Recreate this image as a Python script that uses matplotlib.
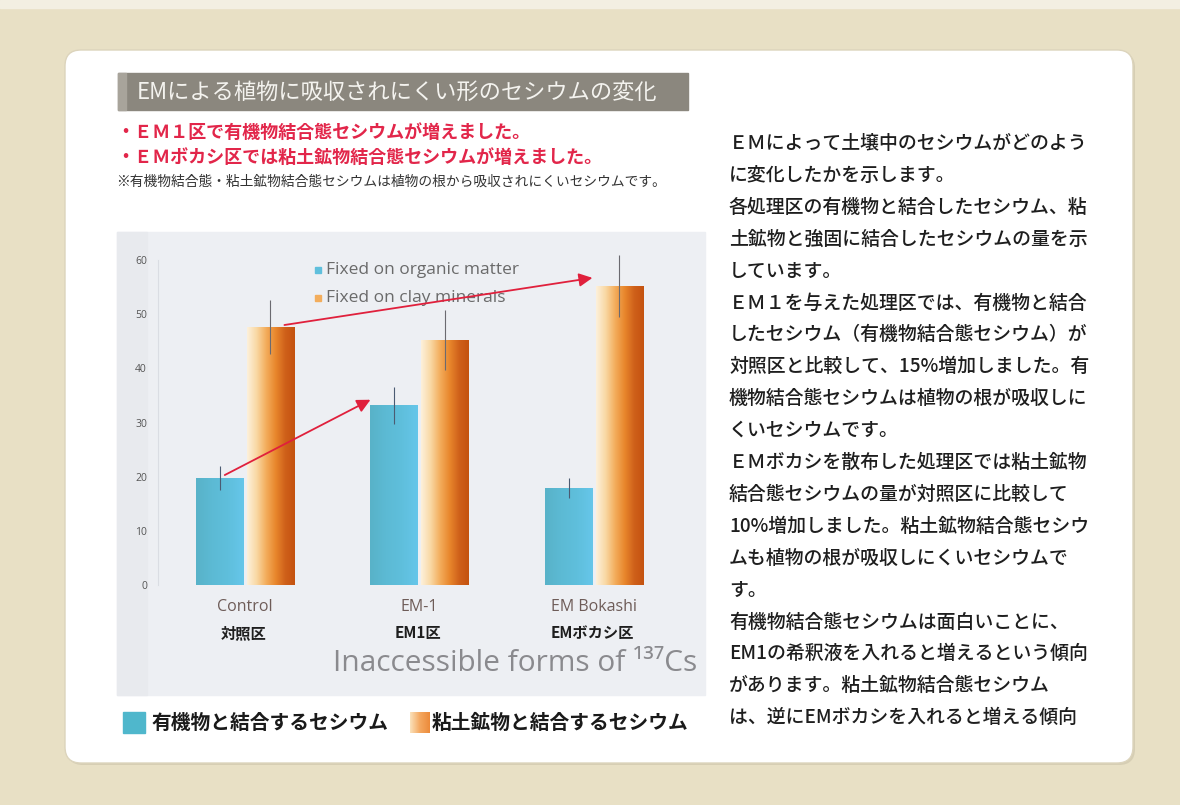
import numpy as np
import matplotlib
matplotlib.use("Agg")
import matplotlib.pyplot as plt
from matplotlib.patches import Rectangle, FancyBboxPatch
from matplotlib.colors import LinearSegmentedColormap

# ---------------- data ----------------
categories_en = ["Control", "EM-1", "EM Bokashi"]
categories_jp = ["対照区", "EM1区", "EMボカシ区"]
organic_values = [19.7, 33.2, 17.9]
organic_err = [2.2, 3.4, 1.9]
clay_values = [47.6, 45.2, 55.2]
clay_err = [5.0, 5.5, 5.8]
y_ticks = [0, 10, 20, 30, 40, 50, 60]
legend_en = ["Fixed on organic matter", "Fixed on clay minerals"]
legend_jp = ["有機物と結合するセシウム", "粘土鉱物と結合するセシウム"]
chart_title = "Inaccessible forms of ¹³⁷Cs"
panel_title = "EMによる植物に吸収されにくい形のセシウムの変化"
red_points = ["・ＥＭ１区で有機物結合態セシウムが増えました。",
              "・ＥＭボカシ区では粘土鉱物結合態セシウムが増えました。"]
note = "※有機物結合態・粘土鉱物結合態セシウムは植物の根から吸収されにくいセシウムです。"
body_lines = [
    "ＥＭによって土壌中のセシウムがどのよう",
    "に変化したかを示します。",
    "各処理区の有機物と結合したセシウム、粘",
    "土鉱物と強固に結合したセシウムの量を示",
    "しています。",
    "ＥＭ１を与えた処理区では、有機物と結合",
    "したセシウム（有機物結合態セシウム）が",
    "対照区と比較して、15%増加しました。有",
    "機物結合態セシウムは植物の根が吸収しに",
    "くいセシウムです。",
    "ＥＭボカシを散布した処理区では粘土鉱物",
    "結合態セシウムの量が対照区に比較して",
    "10%増加しました。粘土鉱物結合態セシウ",
    "ムも植物の根が吸収しにくいセシウムで",
    "す。",
    "有機物結合態セシウムは面白いことに、",
    "EM1の希釈液を入れると増えるという傾向",
    "があります。粘土鉱物結合態セシウム",
    "は、逆にEMボカシを入れると増える傾向",
]

JP = ["Noto Sans CJK JP", "DejaVu Sans"]
EN = ["Open Sans", "DejaVu Sans"]
W, H = 1180, 805

fig = plt.figure(figsize=(W / 100, H / 100), dpi=100)

# ---------------- background / layout layer (pixel coordinates) ----------------
bg = fig.add_axes([0, 0, 1, 1])
bg.set_xlim(0, W)
bg.set_ylim(H, 0)
bg.axis("off")
bg.add_patch(Rectangle((0, 0), W, H, color="#e8e0c5", zorder=0))
bg.add_patch(Rectangle((0, 0), W, 8, color="#f3efe2", zorder=0.5))
bg.add_patch(FancyBboxPatch((67, 52), 1068, 713, boxstyle="round,pad=0,rounding_size=16",
                            fc="#d6ceb4", ec="none", zorder=0.8))
bg.add_patch(FancyBboxPatch((65, 50), 1068, 713, boxstyle="round,pad=0,rounding_size=16",
                            fc="#ffffff", ec="#dcd4bc", lw=1.0, zorder=1))

# title bar
bg.add_patch(Rectangle((118, 73), 570, 37, color="#8b877e", zorder=2))
bg.add_patch(Rectangle((118, 73), 8, 37, color="#a8a49b", zorder=2.1))
bg.text(137, 92, panel_title, family=JP, fontsize=16, color="#f4f3ef", va="center", ha="left", zorder=3)

# red bullet lines and note
bg.text(116, 132, red_points[0], family=JP, fontsize=13, color="#e2264a", fontweight="bold",
        va="center", ha="left", zorder=3)
bg.text(116, 157, red_points[1], family=JP, fontsize=13, color="#e2264a", fontweight="bold",
        va="center", ha="left", zorder=3)
bg.text(116, 182, note, family=JP, fontsize=9.9, color="#333333", va="center", ha="left", zorder=3)

# chart background area
bg.add_patch(Rectangle((117, 232), 588, 463, color="#edeff3", zorder=1.5))
bg.add_patch(Rectangle((117, 232), 30, 463, color="#e8eaee", zorder=1.6))

# right column text
y0, dy = 143, 31.9
for i, line in enumerate(body_lines):
    bg.text(729, y0 + i * dy, line, family=JP, fontsize=13.6, color="#1e1e1e", fontweight="medium",
            va="center", ha="left", zorder=3)

# ---------------- chart ----------------
x_px0, x_step = 245, 174.5
ax_left, ax_right, ax_bottom, ax_top = 158, 690, 585, 240
px_per_unit = (585 - 260) / 60.0
ax = fig.add_axes([ax_left / W, 1 - ax_bottom / H, (ax_right - ax_left) / W, (ax_bottom - ax_top) / H])
ax.set_zorder(3)
ax.patch.set_alpha(0)
xlim = ((ax_left - x_px0) / x_step, (ax_right - x_px0) / x_step)
ylim = (0, (ax_bottom - ax_top) / px_per_unit)

x = np.arange(len(categories_en))
off, bw = 0.146, 0.27
bars_b = ax.bar(x - off, organic_values, bw, zorder=2)
bars_o = ax.bar(x + off, clay_values, bw, zorder=2)

cmap_b = LinearSegmentedColormap.from_list("b", ["#58b2c8", "#5cbad4", "#5fbfdc", "#66c6ea"])
cmap_o = LinearSegmentedColormap.from_list("o", ["#fdf1dc", "#f9d8a4", "#f3ad5c", "#e8862c", "#cf601a", "#c4520f"])
grad = np.linspace(0, 1, 256).reshape(1, -1)
for bars, cm in ((bars_b, cmap_b), (bars_o, cmap_o)):
    for p in bars:
        x0, yb = p.get_x(), p.get_y()
        w, h = p.get_width(), p.get_height()
        im = ax.imshow(grad, extent=[x0, x0 + w, yb, yb + h], aspect="auto", cmap=cm,
                       origin="lower", zorder=2, interpolation="bilinear")
        im.set_clip_path(p)
        p.set_facecolor("none")

ax.errorbar(x - off, organic_values, yerr=organic_err, fmt="none", ecolor="#4b5b72", elinewidth=0.8,
            capsize=0, zorder=3)
ax.errorbar(x + off, clay_values, yerr=clay_err, fmt="none", ecolor="#6b6a70", elinewidth=0.8,
            capsize=0, zorder=3)

# red trend arrows between bars
ax.annotate("", xy=(x[1] - off - bw / 2, organic_values[1] + 1.0),
            xytext=(x[0] - off + 0.03, organic_values[0] + 0.6),
            arrowprops=dict(arrowstyle="-|>", color="#e0203c", lw=1.3, mutation_scale=20,
                            shrinkA=0, shrinkB=0), zorder=4)
ax.annotate("", xy=(x[2] + off - bw / 2 - 0.02, clay_values[2] + 1.5),
            xytext=(x[0] + off + 0.08, clay_values[0] + 0.4),
            arrowprops=dict(arrowstyle="-|>", color="#e0203c", lw=1.3, mutation_scale=20,
                            shrinkA=0, shrinkB=0), zorder=4)

ax.set_xlim(*xlim)
ax.set_ylim(*ylim)
ax.set_yticks(y_ticks)
ax.set_yticklabels([str(t) for t in y_ticks], family=EN, fontsize=7.5, color="#555555")
ax.tick_params(axis="y", length=0, pad=8)
ax.set_xticks(x)
ax.set_xticklabels(categories_en, family=EN, fontsize=11.5, color="#6e5c58")
ax.tick_params(axis="x", length=0, pad=10)
for s in ("top", "right", "bottom"):
    ax.spines[s].set_visible(False)
ax.spines["left"].set_color("#dadde3")
ax.spines["left"].set_linewidth(0.8)
ax.spines["left"].set_bounds(0, 60)

for xi, lab in zip(x, categories_jp):
    ax.text(xi - 0.01, -(633 - ax_bottom) / px_per_unit, lab, family=JP, fontsize=11,
            color="#1e1e1e", ha="center", va="center", fontweight="bold", clip_on=False)

# legend inside chart
bg.add_patch(Rectangle((315, 267), 6, 6, color="#5fbfdc", zorder=4))
bg.add_patch(Rectangle((315, 295), 6, 6, color="#f3ad5c", zorder=4))
bg.text(326, 270, legend_en[0], family=EN, fontsize=12.5, color="#6a6a6a", va="center", ha="left", zorder=4)
bg.text(326, 298, legend_en[1], family=EN, fontsize=12.5, color="#6a6a6a", va="center", ha="left", zorder=2.5)

bg.text(697, 663, chart_title, family=EN, fontsize=21.5, color="#8a8a8e", va="center", ha="right", zorder=4)

# bottom legend
bg.add_patch(Rectangle((123, 712), 22, 21, color="#4fb7cc", zorder=4))
gim = bg.imshow(grad, extent=[410, 430, 733, 712], cmap=LinearSegmentedColormap.from_list(
    "lo", ["#fbe2bc", "#f4a860", "#ec8a3a"]), aspect="auto", zorder=4)
bg.set_xlim(0, W)
bg.set_ylim(H, 0)
bg.text(152, 723, legend_jp[0], family=JP, fontsize=14.2, color="#1a1a1a", fontweight="bold",
        va="center", ha="left", zorder=4)
bg.text(432, 723, legend_jp[1], family=JP, fontsize=14.2, color="#1a1a1a", fontweight="bold",
        va="center", ha="left", zorder=4)

fig.savefig("out.png", dpi=100)
